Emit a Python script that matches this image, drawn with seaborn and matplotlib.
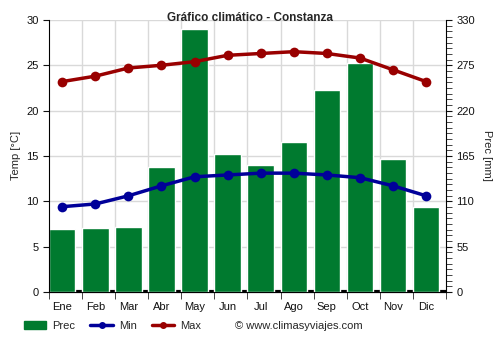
import matplotlib
matplotlib.use("Agg")
import matplotlib.pyplot as plt
from matplotlib.ticker import MultipleLocator, FixedLocator
from matplotlib.patches import Patch
from matplotlib.lines import Line2D
import seaborn as sns
import pandas as pd

months = ["Ene", "Feb", "Mar", "Abr", "May", "Jun", "Jul", "Ago", "Sep", "Oct", "Nov", "Dic"]
prec = [76, 78, 79, 152, 319, 167, 154, 182, 245, 278, 161, 103]
tmin = [9.4, 9.7, 10.6, 11.7, 12.7, 12.9, 13.1, 13.1, 12.9, 12.6, 11.7, 10.6]
tmax = [23.2, 23.8, 24.7, 25.0, 25.4, 26.1, 26.3, 26.5, 26.3, 25.8, 24.5, 23.2]

df = pd.DataFrame({"mes": months, "prec": prec, "min": tmin, "max": tmax})

GREEN = "#007a2f"
BLUE = "#000099"
RED = "#990000"

sns.set_style("white")
plt.rcParams["font.family"] = ["Liberation Sans", "DejaVu Sans"]

fig = plt.figure(figsize=(5, 3.5), dpi=100)
ax = fig.add_axes([0.098, 0.166, 0.794, 0.777])
axp = ax.twinx()

# precipitation bars on the secondary axis, kept behind the temperature lines
ax.set_zorder(axp.get_zorder() + 1)
ax.patch.set_visible(False)
axp.patch.set_visible(True)
axp.patch.set_facecolor("white")

XMIN, XMAX = -0.4, 11.6
bounds = [i - 0.4 for i in range(13)]

sns.barplot(data=df, x="mes", y="prec", color=GREEN, saturation=1, width=0.8,
            ax=axp, zorder=3)
axp.set_ylim(0, 330)
axp.set_xlim(XMIN, XMAX)
axp.yaxis.set_major_locator(MultipleLocator(55))
axp.yaxis.set_minor_locator(MultipleLocator(55 / 8))
axp.grid(True, which="major", axis="y", color="#d9d9d9", lw=1, zorder=0)
for b in bounds[1:-1]:
    axp.axvline(b, color="#d9d9d9", lw=1, zorder=0.5)
axp.set_axisbelow(True)
axp.axhline(0, color="black", lw=3, zorder=2)
axp.set_ylabel("Prec [mm]", fontsize=8, labelpad=12, rotation=270)
axp.set_xlabel("")

# temperature lines
sns.lineplot(data=df, x="mes", y="max", color=RED, lw=2.5, marker="o",
             markersize=7, markeredgewidth=0, ax=ax, sort=False)
sns.lineplot(data=df, x="mes", y="min", color=BLUE, lw=2.5, marker="o",
             markersize=7, markeredgewidth=0, ax=ax, sort=False)
ax.set_ylim(0, 30)
ax.set_xlim(XMIN, XMAX)
ax.yaxis.set_major_locator(MultipleLocator(5))
ax.set_ylabel("Temp [°C]", fontsize=8, labelpad=4)
ax.set_xlabel("")
ax.set_xticks(range(12))
ax.set_xticklabels(months)
ax.xaxis.set_minor_locator(FixedLocator(bounds))

for a in (ax, axp):
    a.spines["top"].set_visible(False)
    a.tick_params(labelsize=8, colors="#111111", length=4)
for s in ("left", "right", "bottom"):
    ax.spines[s].set_color("black")
    axp.spines[s].set_color("black")
ax.spines["right"].set_visible(False)
axp.spines["left"].set_visible(False)
ax.tick_params(axis="y", left=True, right=False, direction="out")
ax.tick_params(axis="x", which="major", bottom=False)
ax.tick_params(axis="x", which="minor", bottom=True, length=5)
axp.tick_params(axis="x", which="both", bottom=False, labelbottom=False)
axp.tick_params(axis="y", which="major", right=True, direction="out", length=4)
axp.tick_params(axis="y", which="minor", right=True, direction="out", length=4)

fig.text(0.5, 1 - 18 / 350, "Gráfico climático - Constanza", fontsize=8.5,
         fontweight="bold", ha="center", va="center")

handles = [
    Patch(facecolor=GREEN, edgecolor=GREEN),
    Line2D([0], [0], color=BLUE, lw=2.5, marker="o", markersize=4),
    Line2D([0], [0], color=RED, lw=2.5, marker="o", markersize=4),
]
fig.legend(handles, ["Prec", "Min", "Max"], loc="center left",
           bbox_to_anchor=(0.027, 0.068), ncol=3, frameon=False, fontsize=8,
           handlelength=2.0, handletextpad=0.55, columnspacing=1.4)
fig.text(0.47, 0.068, "© www.climasyviajes.com", fontsize=8, va="center", ha="left")

fig.savefig("out.png", dpi=100)
